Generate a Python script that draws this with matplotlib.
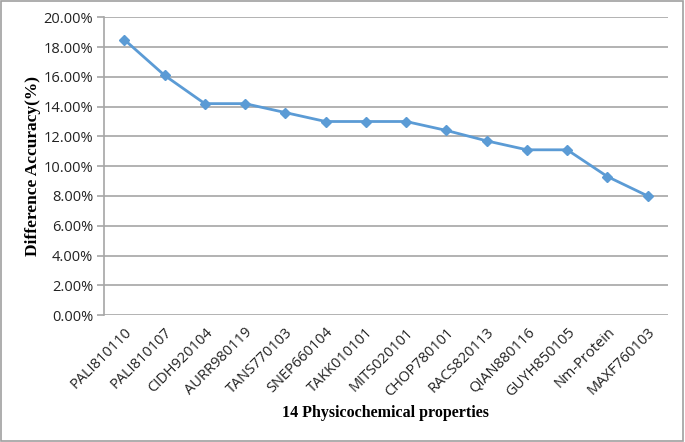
import matplotlib
matplotlib.use("Agg")
import matplotlib.pyplot as plt
from matplotlib.ticker import FuncFormatter
from matplotlib.patches import Rectangle

categories = ["PALI810110", "PALI810107", "CIDH920104", "AURR980119", "TANS770103",
              "SNEP660104", "TAKK010101", "MITS020101", "CHOP780101", "RACS820113",
              "QIAN880116", "GUYH850105", "Nm-Protein", "MAXF760103"]
values = [18.5, 16.1, 14.2, 14.2, 13.6, 13.0, 13.0, 13.0, 12.4, 11.7, 11.1, 11.1, 9.3, 8.0]
yticks = [0, 2, 4, 6, 8, 10, 12, 14, 16, 18, 20]

fig = plt.figure(figsize=(6.85, 4.42), dpi=100)
ax = fig.add_axes([0.152, 0.287, 0.823, 0.674])
x = list(range(len(categories)))
ax.plot(x, values, color="#5B9BD5", lw=2, marker="D", ms=5)
ax.set_xlim(-0.5, len(categories) - 0.5)
ax.set_ylim(0, 20)
ax.set_yticks(yticks)
ax.yaxis.set_major_formatter(FuncFormatter(lambda v, p: f"{v:.2f}%"))
ax.grid(axis="y", color="#A6A6A6", lw=1.2)
ax.set_axisbelow(True)
for s in ["top", "right", "bottom"]:
    ax.spines[s].set_visible(False)
ax.spines["left"].set_color("#A6A6A6")
ax.spines["left"].set_linewidth(1.2)
ax.tick_params(axis="y", length=5, width=1.2, color="#A6A6A6", labelsize=10.5, pad=3)
ax.tick_params(axis="x", length=0, labelsize=10.5, pad=7)
ax.set_xticks(x)
ax.set_xticklabels(categories, rotation=45, ha="right", rotation_mode="anchor", fontsize=10.5)
for lab in ax.get_xticklabels() + ax.get_yticklabels():
    lab.set_fontfamily("Open Sans")
    lab.set_color("#222222")
ax.set_ylabel("Difference Accuracy(%)", family="Liberation Serif", weight="bold", fontsize=12.5, labelpad=2)
fig.text(0.563, 0.066, "14 Physicochemical properties", family="Liberation Serif",
         weight="bold", fontsize=11.5, ha="center", va="center")
fig.patches.append(Rectangle((0.002, 0.003), 0.995, 0.994, transform=fig.transFigure,
                             fill=False, edgecolor="#A0A0A0", lw=1.2))
fig.savefig("out.png", dpi=100)
